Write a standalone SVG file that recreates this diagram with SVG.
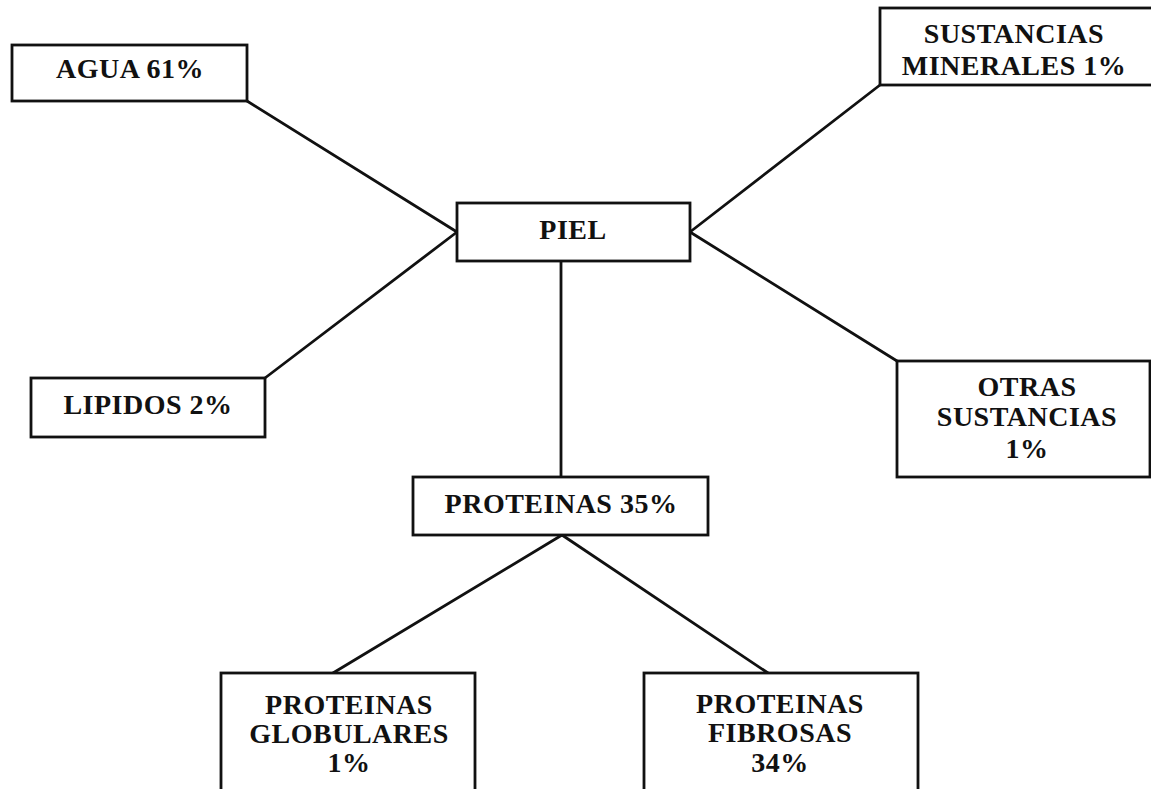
<svg xmlns="http://www.w3.org/2000/svg" width="1151" height="789" viewBox="0 0 1151 789">
  <style>
    .box { fill: #ffffff; stroke: #111111; stroke-width: 2.8; }
    .link { stroke: #111111; stroke-width: 2.8; fill: none; stroke-linecap: round; }
    .lbl { font-family: "Liberation Serif", "Times New Roman", serif; font-weight: bold; font-size: 28px; letter-spacing: 0.5px; fill: #111111; text-anchor: middle; }
  </style>
  <rect x="0" y="0" width="1151" height="789" fill="#ffffff"/>

  <!-- connectors -->
  <g id="connectors">
    <line class="link" x1="247" y1="101" x2="457" y2="232"/>
    <line class="link" x1="265" y1="378" x2="457" y2="232"/>
    <line class="link" x1="880" y1="85" x2="690" y2="232"/>
    <line class="link" x1="897" y1="361" x2="690" y2="232"/>
    <line class="link" x1="561" y1="261" x2="561" y2="477"/>
    <line class="link" x1="562" y1="535" x2="333" y2="673"/>
    <line class="link" x1="562" y1="535" x2="768" y2="673"/>
  </g>

  <g id="agua">
    <rect class="box" x="12" y="45" width="235" height="56"/>
    <text class="lbl" x="130" y="78">AGUA 61%</text>
  </g>

  <g id="sustancias-minerales">
    <rect class="box" x="880" y="8" width="280" height="77"/>
    <text class="lbl" x="1014" y="43">SUSTANCIAS</text>
    <text class="lbl" x="1014" y="75">MINERALES 1%</text>
  </g>

  <g id="piel">
    <rect class="box" x="457" y="203" width="233" height="58"/>
    <text class="lbl" x="573" y="239">PIEL</text>
  </g>

  <g id="lipidos">
    <rect class="box" x="31" y="378" width="234" height="59"/>
    <text class="lbl" x="148" y="414">LIPIDOS 2%</text>
  </g>

  <g id="otras-sustancias">
    <rect class="box" x="897" y="361" width="253" height="116"/>
    <text class="lbl" x="1027" y="396">OTRAS</text>
    <text class="lbl" x="1027" y="426">SUSTANCIAS</text>
    <text class="lbl" x="1027" y="458">1%</text>
  </g>

  <g id="proteinas">
    <rect class="box" x="413" y="477" width="295" height="58"/>
    <text class="lbl" x="561" y="513">PROTEINAS 35%</text>
  </g>

  <g id="proteinas-globulares">
    <rect class="box" x="221" y="673" width="254" height="130"/>
    <text class="lbl" x="349" y="714">PROTEINAS</text>
    <text class="lbl" x="349" y="743">GLOBULARES</text>
    <text class="lbl" x="349" y="772">1%</text>
  </g>

  <g id="proteinas-fibrosas">
    <rect class="box" x="644" y="673" width="274" height="130"/>
    <text class="lbl" x="780" y="713">PROTEINAS</text>
    <text class="lbl" x="780" y="742">FIBROSAS</text>
    <text class="lbl" x="780" y="772">34%</text>
  </g>
</svg>
